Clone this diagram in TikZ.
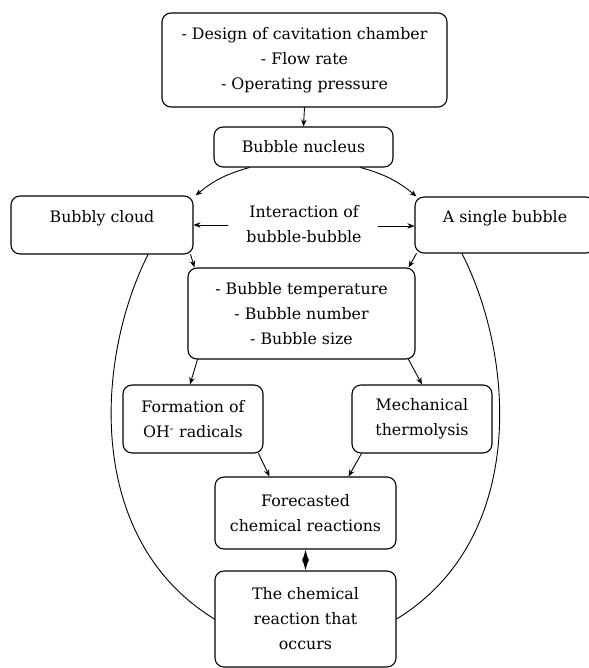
\documentclass[tikz,border=0pt]{standalone}
\usepackage{fontspec}
\setmainfont{DejaVu Serif}
\usetikzlibrary{arrows.meta}

\begin{document}
\begin{tikzpicture}[x=1pt, y=-1pt, >={Stealth[length=7pt,width=5.5pt]}, line cap=round, line join=round,
    every node/.style={font=\fontsize{15.8}{25}\selectfont, align=center},
    box/.style={draw, rounded corners=9pt, line width=1.1pt, inner sep=0pt},
    link/.style={->, line width=0.9pt}]

  % Fix the page to the size of the reference
  \useasboundingbox (0,0) rectangle (588,668);

  % Boxes, placed at their centres
  \node[box, minimum width=285, minimum height=94] (param) at (304.5,60)
       {- Design of cavitation chamber\\- Flow rate\\- Operating pressure};
  \node[box, minimum width=179, minimum height=40] (nuc) at (303.5,147) {Bubble nucleus};
  \node[box, minimum width=182, minimum height=58] (cloud) at (102,225)
       {\raisebox{2pt}[0pt][0pt]{Bubbly cloud}};
  \node[box, minimum width=180, minimum height=56] (single) at (505,225)
       {\raisebox{2pt}[0pt][0pt]{A single bubble}};
  \node (inter) at (304,224) {Interaction of\\bubble-bubble};
  \node[box, minimum width=227, minimum height=91] (bub) at (301.5,313.5)
       {- Bubble temperature\\- Bubble number\\- Bubble size};
  \node[box, minimum width=140, minimum height=68] (form) at (193,419)
       {Formation of\\OH\textsuperscript{-} radicals};
  \node[box, minimum width=140, minimum height=68] (mech) at (422,419)
       {Mechanical\\thermolysis};
  \node[box, minimum width=181, minimum height=72] (fore) at (305.5,513)
       {Forecasted\\chemical reactions};
  \node[box, minimum width=181, minimum height=96] (occur) at (305.5,619)
       {The chemical\\reaction that\\occurs};

  % Free ends of the two side arrows of the interaction text
  \coordinate (interL) at (228,225);
  \coordinate (interR) at (378,226);

  % Arrows down the chart
  \draw[link] (param.south) -- (nuc.north);
  \draw[link] ([xshift=36]nuc.south west) to[bend right=12] ([xshift=2]cloud.north east);
  \draw[link] ([xshift=-33]nuc.south east) to[bend left=12] ([xshift=2]single.north west);
  \draw[link] (interL) -- (cloud.east);
  \draw[link] (interR) -- ([yshift=-1]single.west);
  \draw[link] ([xshift=-3]cloud.south east) -- ([xshift=7]bub.north west);
  \draw[link] ([xshift=2]single.south west) -- ([xshift=-7]bub.north east);
  \draw[link] ([xshift=10]bub.south west) -- ([xshift=-3]form.north);
  \draw[link] ([xshift=-7]bub.south east) -- (mech.north);
  \draw[link] ([xshift=-5]form.south east) -- ([xshift=-36]fore.north);
  \draw[link] ([xshift=10]mech.south west) -- ([xshift=43]fore.north);

  % Two-headed link between forecast and outcome
  \draw[{Latex[length=11pt,width=7pt]}-{Latex[length=11pt,width=7pt]}, line width=0.9pt]
       (fore.south) -- (occur.north);

  % Outer arcs from the two bubble boxes to the outcome
  \draw[line width=0.9pt] ([xshift=46]cloud.south) .. controls (95,360) and (85,540) .. (occur.west);
  \draw[line width=0.9pt] ([xshift=-43]single.south) .. controls (516,360) and (526,540) .. (occur.east);
\end{tikzpicture}
\end{document}
